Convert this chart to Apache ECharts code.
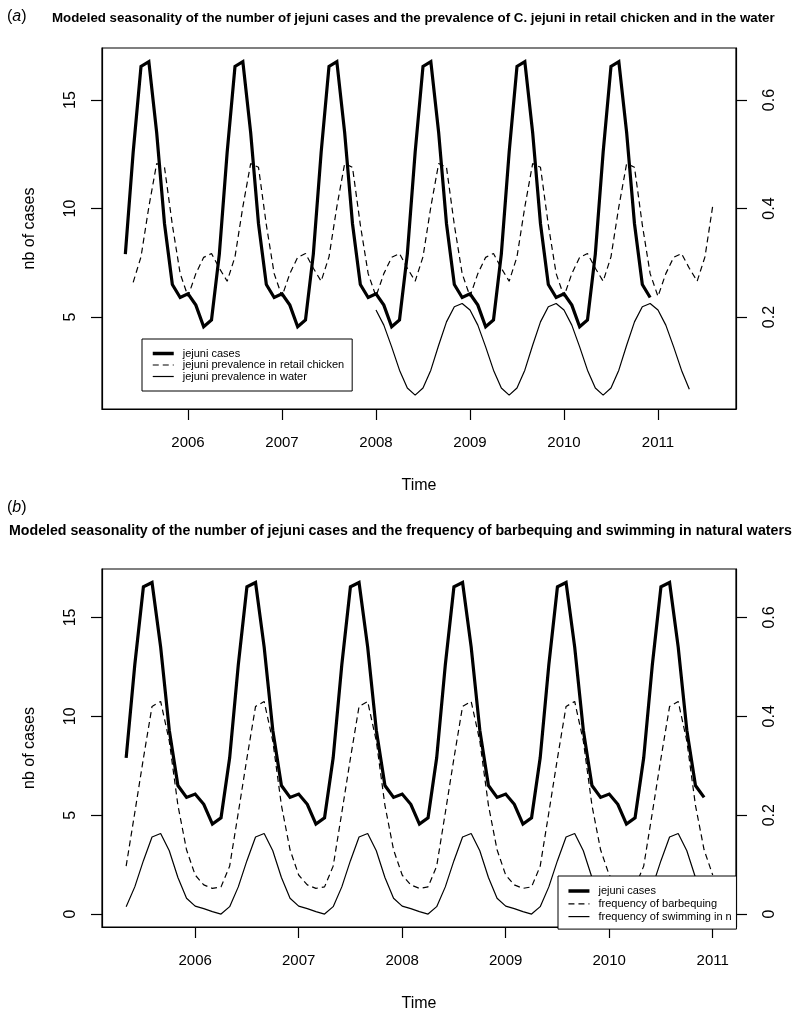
<!DOCTYPE html>
<html><head><meta charset="utf-8">
<script src="https://cdn.jsdelivr.net/npm/echarts@6/dist/echarts.min.js"></script>
<style>html,body{margin:0;padding:0;background:#fff}#c{width:796px;height:1013px}</style>
</head><body><div id="c"></div>
<script>
// ---------------- data ----------------
const yearTicks = [2006, 2007, 2008, 2009, 2010, 2011];
const leftTicksA = [5, 10, 15];
const rightTicksA = [0.2, 0.4, 0.6];
const leftTicksB = [0, 5, 10, 15];
const rightTicksB = [0, 0.2, 0.4, 0.6];

// monthly series, first month given, one value per month
const casesStart = '2005-05';
const jejuniCases = [
  7.9, 12.6, 16.55, 16.77, 13.5, 9.3, 6.5, 5.9,
  6.07, 5.55, 4.55, 4.87, 7.9, 12.6, 16.55, 16.77, 13.5, 9.3, 6.5, 5.9,
  6.07, 5.55, 4.55, 4.87, 7.9, 12.6, 16.55, 16.77, 13.5, 9.3, 6.5, 5.9,
  6.07, 5.55, 4.55, 4.87, 7.9, 12.6, 16.55, 16.77, 13.5, 9.3, 6.5, 5.9,
  6.07, 5.55, 4.55, 4.87, 7.9, 12.6, 16.55, 16.77, 13.5, 9.3, 6.5, 5.9,
  6.07, 5.55, 4.55, 4.87, 7.9, 12.6, 16.55, 16.77, 13.5, 9.3, 6.5, 5.9
];
const chickenStart = '2005-06';
const chickenPrevalence = [
  0.264, 0.311, 0.403, 0.483, 0.476, 0.37, 0.28,
  0.238, 0.28, 0.31, 0.317, 0.29, 0.266, 0.311, 0.403, 0.483, 0.476, 0.37, 0.28,
  0.238, 0.28, 0.31, 0.317, 0.29, 0.266, 0.311, 0.403, 0.483, 0.476, 0.37, 0.28,
  0.238, 0.28, 0.31, 0.317, 0.29, 0.266, 0.311, 0.403, 0.483, 0.476, 0.37, 0.28,
  0.238, 0.28, 0.31, 0.317, 0.29, 0.266, 0.311, 0.403, 0.483, 0.476, 0.37, 0.28,
  0.238, 0.28, 0.31, 0.317, 0.29, 0.266, 0.311, 0.403, 0.483, 0.476, 0.37, 0.28,
  0.238, 0.28, 0.31, 0.317, 0.29, 0.266, 0.311, 0.406
];
const waterStart = '2008-01';
const waterPrevalence = [
  0.213, 0.185, 0.145, 0.102, 0.069, 0.056, 0.069, 0.102, 0.148, 0.191, 0.219, 0.225,
  0.213, 0.185, 0.145, 0.102, 0.069, 0.056, 0.069, 0.102, 0.148, 0.191, 0.219, 0.225,
  0.213, 0.185, 0.145, 0.102, 0.069, 0.056, 0.069, 0.102, 0.148, 0.191, 0.219, 0.225,
  0.213, 0.185, 0.145, 0.102, 0.067
];
const bbqStart = '2005-05';
const barbequingFreq = [
  0.097, 0.205, 0.315, 0.42, 0.43, 0.35, 0.22, 0.13,
  0.079, 0.059, 0.052, 0.055, 0.097, 0.205, 0.315, 0.42, 0.43, 0.35, 0.22, 0.13,
  0.079, 0.059, 0.052, 0.055, 0.097, 0.205, 0.315, 0.42, 0.43, 0.35, 0.22, 0.13,
  0.079, 0.059, 0.052, 0.055, 0.097, 0.205, 0.315, 0.42, 0.43, 0.35, 0.22, 0.13,
  0.079, 0.059, 0.052, 0.055, 0.097, 0.205, 0.315, 0.42, 0.43, 0.35, 0.22, 0.13,
  0.079, 0.059, 0.052, 0.055, 0.097, 0.205, 0.315, 0.42, 0.43, 0.35, 0.22, 0.13,
  0.079
];
const swimStart = '2005-05';
const swimmingFreq = [
  0.015, 0.055, 0.108, 0.156, 0.163, 0.128, 0.074, 0.032,
  0.016, 0.011, 0.005, 0.0, 0.015, 0.055, 0.108, 0.156, 0.163, 0.128, 0.074, 0.032,
  0.016, 0.011, 0.005, 0.0, 0.015, 0.055, 0.108, 0.156, 0.163, 0.128, 0.074, 0.032,
  0.016, 0.011, 0.005, 0.0, 0.015, 0.055, 0.108, 0.156, 0.163, 0.128, 0.074, 0.032,
  0.016, 0.011, 0.005, 0.0, 0.015, 0.055, 0.108, 0.156, 0.163, 0.128, 0.074, 0.032,
  0.016, 0.011, 0.005, 0.0, 0.015, 0.055, 0.108, 0.156, 0.163, 0.128, 0.074, 0.032,
  0.016
];

const titleA = 'Modeled seasonality of the number of jejuni cases and the prevalence of C. jejuni in retail chicken and in the water';
const titleB = 'Modeled seasonality of the number of jejuni cases and the frequency of barbequing and swimming in natural waters';
const namesA = ['jejuni cases', 'jejuni prevalence in retail chicken', 'jejuni prevalence in water'];
const namesB = ['jejuni cases', 'frequency of barbequing', 'frequency of swimming in natural waters'];

// ---------------- helpers ----------------
function monthX(start, i) {
  const p = start.split('-').map(Number);
  return p[0] + (p[1] - 1 + i) / 12;
}
function pairs(start, vals) { return vals.map((v, i) => [monthX(start, i), v]); }

const FONT = '"Liberation Sans", Arial, Helvetica, sans-serif';
const BLACK = '#000';
const thick = { color: BLACK, width: 3.2, type: 'solid', cap: 'butt', join: 'miter' };
const dashed = { color: BLACK, width: 1.2, type: [6, 4] };
const thin = { color: BLACK, width: 1.2, type: 'solid' };

function xAxis(gi, min, max, gap) {
  return {
    gridIndex: gi, type: 'value', min: min, max: max,
    name: 'Time', nameLocation: 'middle', nameGap: gap,
    nameTextStyle: { fontFamily: FONT, fontSize: 16, color: BLACK },
    axisLine: { show: true, onZero: false, lineStyle: { color: BLACK, width: 1.2 } },
    axisTick: { show: true, length: 11, customValues: yearTicks, lineStyle: { color: BLACK, width: 1.2 } },
    axisLabel: { show: true, customValues: yearTicks, margin: 26, fontFamily: FONT, fontSize: 15, color: BLACK, formatter: v => String(v) },
    splitLine: { show: false }
  };
}
function yAxis(gi, pos, min, max, ticks, name, margin) {
  return {
    gridIndex: gi, type: 'value', position: pos, min: min, max: max,
    name: name || '', nameLocation: 'middle', nameGap: 64, nameRotate: 90,
    nameTextStyle: { fontFamily: FONT, fontSize: 16, color: BLACK },
    axisLine: { show: true, onZero: false, lineStyle: { color: BLACK, width: 1.2 } },
    axisTick: { show: true, length: 11, customValues: ticks, lineStyle: { color: BLACK, width: 1.2 } },
    axisLabel: { show: true, customValues: ticks, rotate: 90, margin: margin, fontFamily: FONT, fontSize: 16, color: BLACK, formatter: v => String(v) },
    splitLine: { show: false }
  };
}
function line(name, xi, yi, data, style, z) {
  return { name: name, type: 'line', xAxisIndex: xi, yAxisIndex: yi, data: data,
    symbol: 'none', showSymbol: false, lineStyle: style, itemStyle: { color: BLACK },
    z: z || 2, clip: true, silent: true };
}
function legend(names, left, top, pad, gap, textWidth) {
  const styles = [thick, dashed, thin];
  const ts = { fontFamily: FONT, fontSize: 11, color: BLACK, lineHeight: 11, padding: [0, 0, 0, 4] };
  if (textWidth) { ts.width = textWidth; ts.overflow = 'truncate'; ts.ellipsis = ''; }
  return {
    orient: 'vertical', left: left, top: top, padding: pad, itemGap: gap,
    itemWidth: 21, itemHeight: 11,
    backgroundColor: '#fff', borderColor: BLACK, borderWidth: 1, borderRadius: 0,
    selectedMode: false, z: 10,
    textStyle: ts,
    itemStyle: { opacity: 0, borderWidth: 0 },
    data: names.map((n, i) => ({ name: n,
      itemStyle: { opacity: 0, borderWidth: 0 },
      lineStyle: Object.assign({}, styles[i], { width: i === 0 ? 3.5 : 1.2, type: i === 1 ? [6, 4] : 'solid', opacity: 1 }) }))
  };
}
const richParen = {
  p: { fontFamily: FONT, fontSize: 16, fontWeight: 'normal', color: BLACK },
  i: { fontFamily: FONT, fontSize: 16, fontWeight: 'normal', fontStyle: 'italic', color: BLACK }
};

const chart = echarts.init(document.getElementById('c'), null, { renderer: 'canvas' });
chart.setOption({
  backgroundColor: '#fff',
  animation: false,
  title: [
    { text: '{p|(}{i|a}{p|)}', left: 2, top: 4, textStyle: { fontWeight: 'normal', rich: richParen } },
    { text: titleA, left: 47, top: 7, textStyle: { fontFamily: FONT, fontSize: 13.3, fontWeight: 'bold', color: BLACK } },
    { text: '{p|(}{i|b}{p|)}', left: 2, top: 495, textStyle: { fontWeight: 'normal', rich: richParen } },
    { text: titleB, left: 4, top: 519, textStyle: { fontFamily: FONT, fontSize: 14.2, fontWeight: 'bold', color: BLACK } }
  ],
  grid: [
    { left: 102, top: 48, width: 634, height: 361, show: true, borderColor: BLACK, borderWidth: 1.2, backgroundColor: 'transparent' },
    { left: 102, top: 569, width: 634, height: 360, show: true, borderColor: BLACK, borderWidth: 1.2, backgroundColor: 'transparent' }
  ],
  xAxis: [
    xAxis(0, 2005.085, 2011.83, 69),
    xAxis(1, 2005.10, 2011.225, 69)
  ],
  yAxis: [
    yAxis(0, 'left', 0.76, 17.4, leftTicksA, 'nb of cases', 23),
    yAxis(0, 'right', 0.0304, 0.696, rightTicksA, '', 26),
    yAxis(1, 'left', -0.654, 17.45, leftTicksB, 'nb of cases', 23),
    yAxis(1, 'right', -0.02616, 0.698, rightTicksB, '', 26)
  ],
  legend: [
    legend(namesA, 142, 339, [9, 8, 9, 9], 0.5),
    legend(namesB, 558, 876, [9.5, 0, 7, 8.7], 1.8, 138)
  ],
  series: [
    line(namesA[0], 0, 0, pairs(casesStart, jejuniCases), thick, 3),
    line(namesA[1], 0, 1, pairs(chickenStart, chickenPrevalence), dashed),
    line(namesA[2], 0, 1, pairs(waterStart, waterPrevalence), thin),
    line(namesB[0], 1, 2, pairs(casesStart, jejuniCases), thick, 3),
    line(namesB[1], 1, 3, pairs(bbqStart, barbequingFreq), dashed),
    line(namesB[2], 1, 3, pairs(swimStart, swimmingFreq), thin)
  ]
});
</script></body></html>
